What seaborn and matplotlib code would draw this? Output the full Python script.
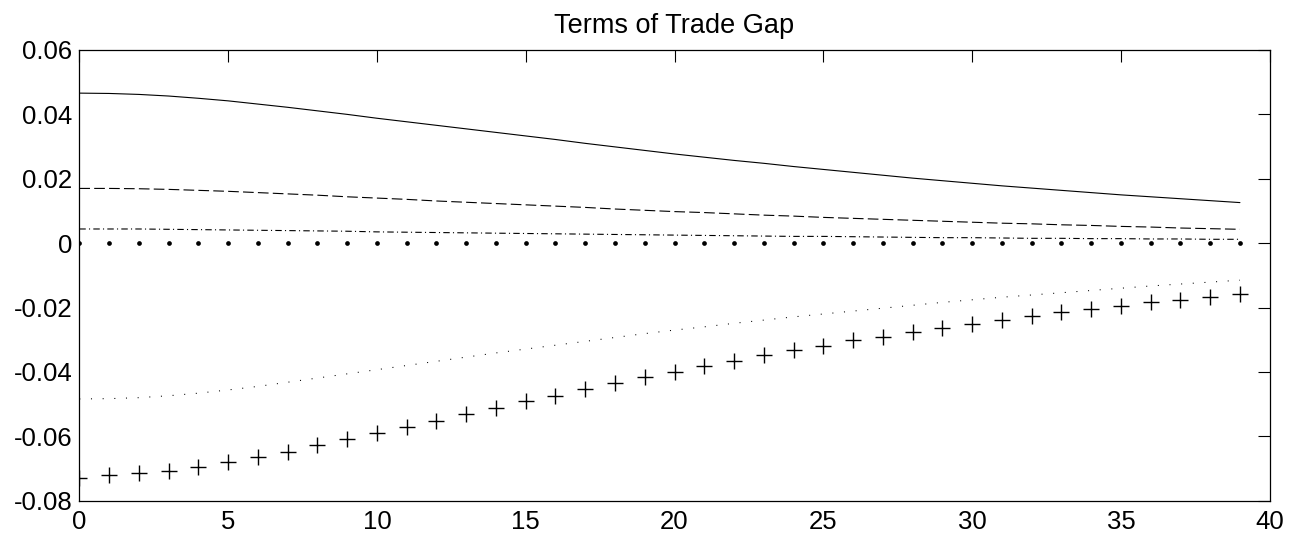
import numpy as np
import pandas as pd
import matplotlib
matplotlib.use("Agg")
import matplotlib.pyplot as plt
import seaborn as sns

# Horizon (periods) and impulse responses of the terms-of-trade gap
periods = list(range(40))

resp_solid = [0.0466, 0.0465, 0.0462, 0.0457, 0.0450, 0.0442, 0.0432, 0.0422, 0.0411, 0.0400,
              0.0388, 0.0377, 0.0366, 0.0355, 0.0344, 0.0333, 0.0322, 0.0310, 0.0299, 0.0288,
              0.0277, 0.0267, 0.0257, 0.0248, 0.0238, 0.0229, 0.0220, 0.0211, 0.0202, 0.0194,
              0.0186, 0.0178, 0.0171, 0.0164, 0.0157, 0.0150, 0.0144, 0.0138, 0.0132, 0.0126]

resp_dashed = [0.0170, 0.0170, 0.0169, 0.0167, 0.0164, 0.0161, 0.0157, 0.0153, 0.0149, 0.0144,
               0.0140, 0.0136, 0.0131, 0.0127, 0.0123, 0.0119, 0.0115, 0.0111, 0.0106, 0.0102,
               0.0098, 0.0095, 0.0091, 0.0087, 0.0084, 0.0080, 0.0077, 0.0074, 0.0071, 0.0068,
               0.0065, 0.0062, 0.0060, 0.0057, 0.0055, 0.0052, 0.0050, 0.0047, 0.0045, 0.0043]

resp_dashdot = [0.0044, 0.0044, 0.0044, 0.0043, 0.0042, 0.0041, 0.0040, 0.0039, 0.0038, 0.0037,
                0.0035, 0.0034, 0.0033, 0.0032, 0.0031, 0.0030, 0.0029, 0.0028, 0.0027, 0.0026,
                0.0025, 0.0024, 0.0023, 0.0022, 0.0021, 0.0021, 0.0020, 0.0019, 0.0018, 0.0017,
                0.0017, 0.0016, 0.0015, 0.0015, 0.0014, 0.0014, 0.0013, 0.0013, 0.0012, 0.0012]

resp_zero = [0.0] * 40

resp_dotted = [-0.0484, -0.0483, -0.0480, -0.0474, -0.0466, -0.0456, -0.0445, -0.0432, -0.0419, -0.0406,
               -0.0393, -0.0380, -0.0367, -0.0354, -0.0341, -0.0329, -0.0317, -0.0305, -0.0293, -0.0281,
               -0.0270, -0.0260, -0.0249, -0.0239, -0.0229, -0.0220, -0.0211, -0.0202, -0.0193, -0.0184,
               -0.0176, -0.0168, -0.0161, -0.0154, -0.0147, -0.0140, -0.0133, -0.0127, -0.0121, -0.0115]

resp_plus = [-0.0728, -0.0720, -0.0715, -0.0707, -0.0694, -0.0681, -0.0663, -0.0648, -0.0627, -0.0608,
             -0.0591, -0.0570, -0.0551, -0.0532, -0.0511, -0.0491, -0.0474, -0.0454, -0.0434, -0.0417,
             -0.0399, -0.0382, -0.0365, -0.0348, -0.0333, -0.0318, -0.0302, -0.0290, -0.0276, -0.0264,
             -0.0251, -0.0238, -0.0225, -0.0215, -0.0204, -0.0195, -0.0183, -0.0177, -0.0168, -0.0159]

xtick_values = [0, 5, 10, 15, 20, 25, 30, 35, 40]
ytick_values = [-0.08, -0.06, -0.04, -0.02, 0.0, 0.02, 0.04, 0.06]
ytick_labels = ["-0.08", "-0.06", "-0.04", "-0.02", "0", "0.02", "0.04", "0.06"]
title_text = "Terms of Trade Gap"

sns.set_style("white")
plt.rcParams["font.family"] = ["Liberation Sans", "DejaVu Sans"]

fig = plt.figure(figsize=(12.98, 5.41), dpi=100)
ax = fig.add_axes([0.0611, 0.0745, 0.9171, 0.8331])

df = pd.DataFrame({
    "t": periods,
    "solid": resp_solid,
    "dashed": resp_dashed,
    "dashdot": resp_dashdot,
    "zero": resp_zero,
    "dotted": resp_dotted,
    "plus": resp_plus,
})

lw = 0.8
sns.lineplot(data=df, x="t", y="solid", ax=ax, color="black", linewidth=lw)
sns.lineplot(data=df, x="t", y="dashed", ax=ax, color="black", linewidth=lw,
             linestyle=(0, (9.6, 3.8)))
sns.lineplot(data=df, x="t", y="dashdot", ax=ax, color="black", linewidth=lw,
             linestyle=(0, (5.8, 2.9, 1.0, 2.9)))
sns.lineplot(data=df, x="t", y="zero", ax=ax, color="black", linestyle="none",
             marker="o", markersize=3.4, markeredgewidth=0)
sns.lineplot(data=df, x="t", y="dotted", ax=ax, color="black", linewidth=0.75,
             linestyle=(0, (1.0, 10.2)))
sns.lineplot(data=df, x="t", y="plus", ax=ax, color="black", linestyle="none",
             marker="+", markersize=11, markeredgewidth=1.0, markeredgecolor="black")

ax.set_xlim(0, 40)
ax.set_ylim(-0.08, 0.06)
ax.set_xticks(xtick_values)
ax.set_xticklabels([str(v) for v in xtick_values])
ax.set_yticks(ytick_values)
ax.set_yticklabels(ytick_labels)
ax.set_xlabel("")
ax.set_ylabel("")

ax.tick_params(axis="both", which="both", direction="in", top=True, right=True,
               length=8.5, width=0.8, labelsize=18.5, color="black", labelcolor="black")
ax.tick_params(axis="x", pad=7)
ax.tick_params(axis="y", pad=5)
for side in ["left", "right", "top", "bottom"]:
    ax.spines[side].set_visible(True)
    ax.spines[side].set_color("black")
    ax.spines[side].set_linewidth(0.9)

ax.set_title(title_text, fontsize=19.5, pad=12, color="black")

fig.savefig("out.png", dpi=100, facecolor="white")
